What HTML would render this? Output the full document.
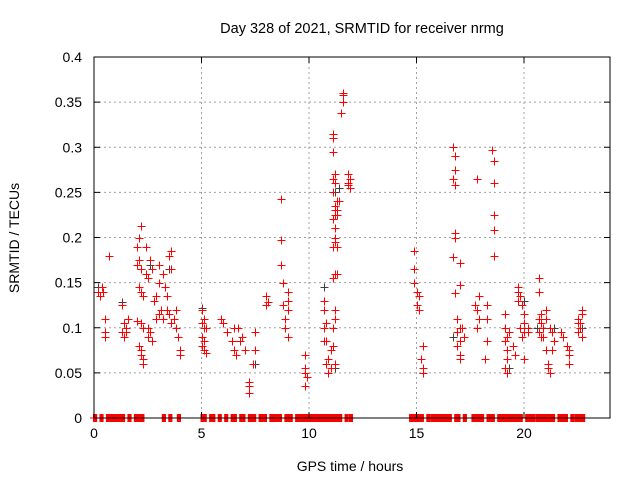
<!DOCTYPE html>
<html><head><meta charset="utf-8"><style>
html,body{margin:0;padding:0;background:#fff}
svg text{font-family:"Liberation Sans",sans-serif;font-size:14px;fill:#000}
</style></head><body>
<svg id="chart" width="640" height="480" xmlns="http://www.w3.org/2000/svg">
<rect width="640" height="480" fill="#fff"/>
<g id="grid"></g>
<g id="zeros"></g>
<g id="pts" shape-rendering="crispEdges"></g>
<g id="axes"></g>
<text x="362" y="33" text-anchor="middle" style="font-size:14.5px">Day 328 of 2021, SRMTID for receiver nrmg</text>
<text x="350" y="471" text-anchor="middle">GPS time / hours</text>
<text x="0" y="0" text-anchor="middle" transform="translate(19,238) rotate(-90)">SRMTID / TECUs</text>
</svg>
<script>
const xTicks=[0,5,10,15,20];
const yTicks=[0,0.05,0.1,0.15,0.2,0.25,0.3,0.35,0.4];
const yTickLabels=["0","0.05","0.1","0.15","0.2","0.25","0.3","0.35","0.4"];
const zeroRuns=[[0,0.1],[0.3,0.4],[0.6,1.4],[1.6,1.7],[1.9,2.3],[3.2,3.3],[3.5,3.6],[3.9,4.0],[5.0,5.2],[5.4,5.6],[5.8,5.9],[6.1,6.2],[6.4,6.6],[6.8,7.0],[7.2,7.5],[7.7,8.0],[8.2,8.7],[8.9,9.2],[9.4,11.5],[11.7,11.8],[11.9,12.0],[14.7,15.3],[15.5,15.6],[15.7,16.6],[16.8,17.0],[17.2,17.3],[17.6,18.1],[18.3,18.6],[18.8,19.9],[20.1,20.5],[20.6,21.4],[21.6,22.0],[22.2,22.3],[22.4,22.8]];
const redHours=[0.2,0.3,0.4,0.5,0.5,0.5,0.7,0.35,1.3,1.4,1.4,1.5,1.6,1.5,1.3,2.0,2.1,2.2,2.1,2.0,2.2,2.1,2.2,2.3,2.0,2.2,2.3,2.1,2.2,2.2,2.3,2.3,2.4,2.4,2.5,2.5,2.6,2.5,2.6,2.7,2.8,2.9,3.0,2.9,3.0,3.1,3.2,2.7,3.0,3.2,3.3,3.4,3.5,3.6,3.4,3.5,3.6,3.7,3.8,3.9,3.8,4.0,4.0,3.6,5.0,5.0,5.1,5.0,5.1,5.0,5.1,5.2,5.1,5.2,5.9,6.0,6.2,6.5,6.4,6.5,6.6,6.7,6.9,6.8,7.0,7.2,7.2,7.2,7.5,7.5,7.4,8.0,8.1,8.0,8.7,8.7,8.7,8.8,9.0,9.0,9.0,8.9,8.9,9.0,8.8,9.8,9.8,9.8,9.9,9.8,10.7,10.7,10.7,10.8,10.8,10.7,10.9,10.8,11.0,10.9,11.0,11.1,11.2,11.1,11.2,11.2,11.1,11.2,11.3,11.1,11.2,11.3,11.2,11.1,11.2,11.3,11.2,11.3,11.1,11.2,11.1,11.2,11.1,11.1,11.1,11.3,11.4,11.2,11.2,11.5,11.6,11.6,11.6,11.8,11.9,11.8,11.9,11.8,14.9,14.9,14.9,15.0,15.1,15.0,15.1,15.3,15.2,15.3,15.3,16.7,16.8,16.8,16.7,16.8,16.8,16.8,16.7,17.0,17.0,16.8,16.9,17.0,16.9,17.0,16.9,17.0,17.0,17.1,17.2,17.8,18.5,18.6,18.6,18.6,18.6,18.6,17.7,17.8,17.9,17.8,17.9,18.3,18.3,18.3,18.2,19.1,19.1,19.2,19.1,19.2,19.2,19.1,19.2,19.3,19.5,19.6,19.7,19.7,19.8,19.7,19.9,20.0,20.0,19.8,20.0,19.9,20.0,20.2,20.2,20.7,20.7,20.8,20.7,20.8,20.9,20.7,20.9,21.0,21.0,20.8,21.0,21.1,21.1,21.2,21.2,21.3,21.4,21.3,21.7,21.8,22.0,22.1,22.1,22.1,22.5,22.5,22.6,22.7,22.7,22.6,22.7,22.5];
const redValues=[0.14,0.135,0.14,0.095,0.09,0.11,0.18,0.145,0.125,0.105,0.09,0.1,0.11,0.095,0.095,0.19,0.2,0.213,0.175,0.17,0.165,0.145,0.14,0.135,0.108,0.105,0.1,0.08,0.075,0.07,0.06,0.065,0.16,0.19,0.155,0.1,0.095,0.09,0.175,0.165,0.13,0.135,0.15,0.11,0.115,0.12,0.11,0.085,0.17,0.16,0.145,0.135,0.18,0.185,0.12,0.115,0.105,0.11,0.1,0.09,0.12,0.07,0.075,0.165,0.12,0.105,0.1,0.09,0.085,0.08,0.075,0.072,0.11,0.1,0.11,0.105,0.095,0.1,0.085,0.075,0.07,0.1,0.09,0.085,0.075,0.04,0.035,0.028,0.095,0.075,0.06,0.135,0.128,0.125,0.243,0.197,0.17,0.15,0.14,0.13,0.12,0.11,0.1,0.09,0.125,0.07,0.055,0.05,0.045,0.035,0.13,0.12,0.1,0.105,0.085,0.085,0.065,0.06,0.055,0.05,0.075,0.08,0.06,0.1,0.11,0.12,0.155,0.16,0.16,0.19,0.195,0.19,0.2,0.22,0.225,0.225,0.235,0.23,0.25,0.26,0.265,0.27,0.295,0.315,0.31,0.24,0.24,0.21,0.23,0.338,0.35,0.358,0.36,0.27,0.265,0.26,0.255,0.258,0.185,0.165,0.15,0.14,0.135,0.125,0.12,0.08,0.065,0.055,0.05,0.3,0.29,0.275,0.265,0.258,0.205,0.2,0.178,0.172,0.147,0.138,0.11,0.1,0.095,0.085,0.08,0.07,0.065,0.1,0.09,0.265,0.297,0.285,0.26,0.225,0.208,0.18,0.125,0.12,0.135,0.1,0.11,0.125,0.11,0.085,0.065,0.115,0.1,0.09,0.085,0.075,0.065,0.055,0.05,0.095,0.08,0.07,0.145,0.14,0.135,0.13,0.125,0.115,0.105,0.1,0.095,0.09,0.065,0.1,0.095,0.155,0.14,0.115,0.11,0.105,0.1,0.095,0.09,0.12,0.11,0.09,0.075,0.06,0.055,0.05,0.1,0.095,0.085,0.075,0.095,0.09,0.08,0.075,0.07,0.06,0.105,0.11,0.1,0.115,0.12,0.105,0.09,0.095];
const grayHours=[0.2,1.3,2.6,3.5,5.0,7.5,9.0,10.7,11.1,11.2,11.4,14.9,15.2,16.7,17.9,18.6,19.3,20.0,20.6,21.4,22.7,9.8,11.2];
const grayValues=[0.145,0.128,0.17,0.165,0.122,0.06,0.13,0.145,0.19,0.25,0.255,0.165,0.065,0.09,0.135,0.285,0.055,0.13,0.1,0.1,0.1,0.07,0.055];

const L=94,R=610,T=57,B=418,XMAX=24,YMAX=0.4;
const sx=h=>L+(h/XMAX)*(R-L);
const sy=v=>B-(v/YMAX)*(B-T);
const NS="http://www.w3.org/2000/svg";
function mk(tag,attrs,parent){const e=document.createElementNS(NS,tag);for(const k in attrs)e.setAttribute(k,attrs[k]);parent.appendChild(e);return e;}
const grid=document.getElementById('grid'),axes=document.getElementById('axes'),zeros=document.getElementById('zeros'),pts=document.getElementById('pts');

xTicks.forEach(t=>{
  const x=sx(t);
  if(t>0){const g=mk('line',{x1:x,x2:x,y1:T,y2:B,stroke:'#a0a0a0','stroke-dasharray':'2,3'},grid);
  
  }
  mk('line',{x1:x,x2:x,y1:B,y2:B-6,stroke:'#000'},axes);
  mk('line',{x1:x,x2:x,y1:T,y2:T+6,stroke:'#000'},axes);
  const tx=mk('text',{x:x,y:B+20,'text-anchor':'middle'},axes);tx.textContent=t;
  
  
});
yTicks.forEach((t,i)=>{
  const y=sy(t);
  if(t>0&&t<YMAX){const g=mk('line',{x1:L,x2:R,y1:y,y2:y,stroke:'#a0a0a0','stroke-dasharray':'2,3'},grid);
  
  }
  mk('line',{x1:L,x2:L+6,y1:y,y2:y,stroke:'#000'},axes);
  mk('line',{x1:R,x2:R-6,y1:y,y2:y,stroke:'#000'},axes);
  const tx=mk('text',{x:L-12,y:y+5,'text-anchor':'end'},axes);tx.textContent=yTickLabels[i];
  
  
});
mk('rect',{x:L,y:T,width:R-L,height:B-T,fill:'none',stroke:'#000'},axes);

zeroRuns.forEach(r=>{
  const z=mk('rect',{x:sx(r[0])-1,y:B-4,width:sx(r[1])-sx(r[0])+2,height:8,fill:'#ff0000'},zeros);
  
  
});
mk('line',{x1:L-4,x2:sx(22.8)+4,y1:B,y2:B,stroke:'#ff0000'},zeros);
function plus(h,v,col){
  const x=Math.round(sx(h))+0.5,y=Math.round(sy(v))+0.5;
  const p=mk('path',{d:`M${x-4},${y}H${x+4}M${x},${y-4}V${y+4}`,stroke:col,'stroke-width':1,fill:'none'},pts);
  
  
}
grayHours.forEach((h,i)=>plus(h,grayValues[i],'#404040'));
redHours.forEach((h,i)=>plus(h,redValues[i],'#ff0000'));
</script>
</body></html>
